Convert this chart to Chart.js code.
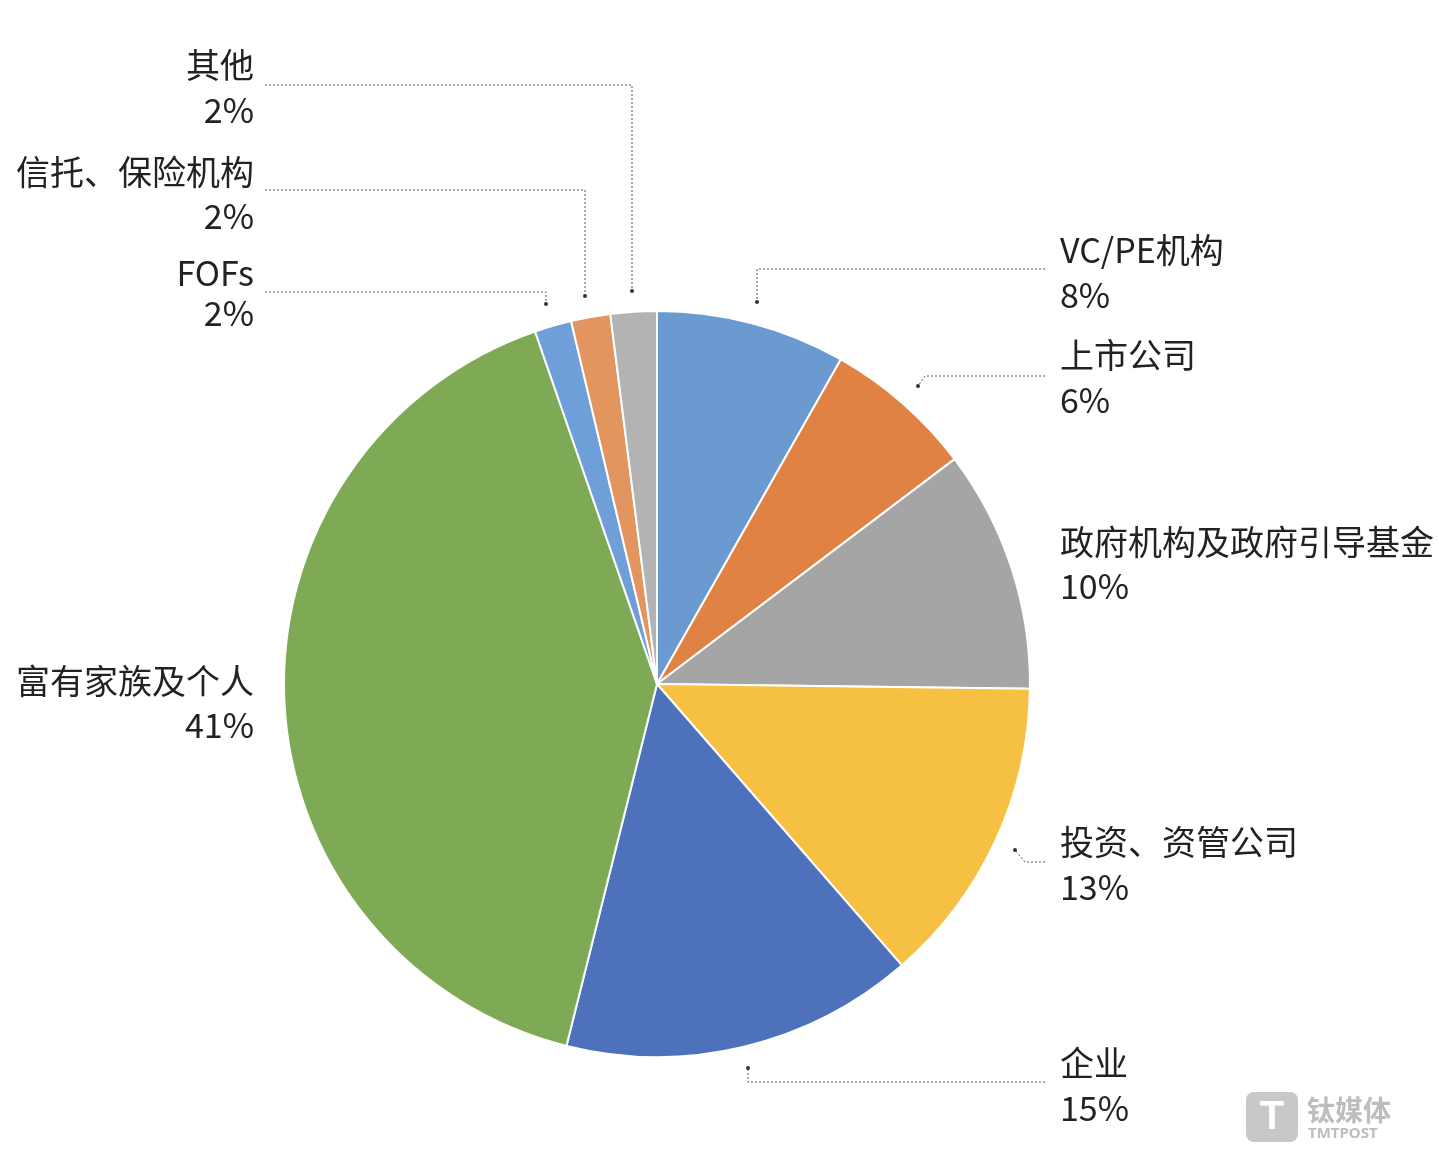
<!DOCTYPE html>
<html><head><meta charset="utf-8">
<script src="https://cdn.jsdelivr.net/npm/chart.js@4"></script>
<style>html,body{margin:0;background:#fff}#w{width:1439px;height:1170px;position:relative}</style>
</head><body><div id="w"><canvas id="c"></canvas></div>
<script>
const categories=["VC/PE机构","上市公司","政府机构及政府引导基金","投资、资管公司","企业","富有家族及个人","FOFs","信托、保险机构","其他"];
const values=[8.2,6.5,10.5,13.4,15.3,40.8,1.6,1.7,2.0];
const pctLabels=["8%","6%","10%","13%","15%","41%","2%","2%","2%"];
const colors=["#6a9ad0","#e08244","#a5a5a5","#f6c142","#4e71bc","#7faa55","#6f9fd8","#e3955f","#b3b3b3"];
const layout=[
 [1060,250,295,'left',[[1045,269],[757,269],[757,302]]],
 [1060,355,400,'left',[[1045,376],[925,376],[918,386]]],
 [1060,542,586,'left',null],
 [1060,842,887,'left',[[1045,862],[1025,862],[1015,850]]],
 [1060,1063,1108,'left',[[1045,1082],[748,1082],[748,1068]]],
 [254,681,725,'right',null],
 [254,273,313,'right',[[265,292],[546,292],[546,304]]],
 [254,172,216,'right',[[265,190],[585,190],[585,296]]],
 [254,65,110,'right',[[265,85],[632,85],[632,291]]]
];
const labelPlugin={id:'lbl',afterDraw(ch){const g=ch.ctx;g.save();
 g.font='34px "Noto Sans CJK SC", "Noto Sans", sans-serif';g.fillStyle='#222';g.textBaseline='middle';
 layout.forEach((l,i)=>{g.textAlign=l[3];g.fillText(categories[i],l[0],l[1]);g.fillText(pctLabels[i],l[0],l[2]);
  if(l[4]){g.strokeStyle='#555';g.lineWidth=1;g.setLineDash([2,2]);g.beginPath();l[4].forEach((p,j)=>j?g.lineTo(p[0],p[1]):g.moveTo(p[0],p[1]));g.stroke();
   const e=l[4][l[4].length-1];g.setLineDash([]);g.fillStyle='#333';g.beginPath();g.arc(e[0],e[1],2,0,7);g.fill();g.fillStyle='#222';}});
 g.fillStyle='#c8c8c8';g.beginPath();g.roundRect(1246,1092,52,50,8);g.fill();
 g.fillStyle='#fff';g.font='bold 40px sans-serif';g.textAlign='center';g.fillText('T',1272,1118);
 g.fillStyle='#bdbdbd';g.textAlign='left';g.font='bold 28px "Noto Sans CJK SC"';g.fillText('钛媒体',1307,1110);
 g.font='bold 15px "Noto Sans"';g.fillText('TMTPOST',1308,1134);
 g.restore();}};
new Chart(document.getElementById('c'),{type:'pie',
 data:{labels:categories,datasets:[{data:values,backgroundColor:colors,borderColor:'#fff',borderWidth:2}]},
 options:{responsive:true,maintainAspectRatio:false,animation:false,
  layout:{padding:{left:283,right:408,top:310,bottom:112}},
  plugins:{legend:{display:false},tooltip:{enabled:false}}},
 plugins:[labelPlugin]});
</script></body></html>
